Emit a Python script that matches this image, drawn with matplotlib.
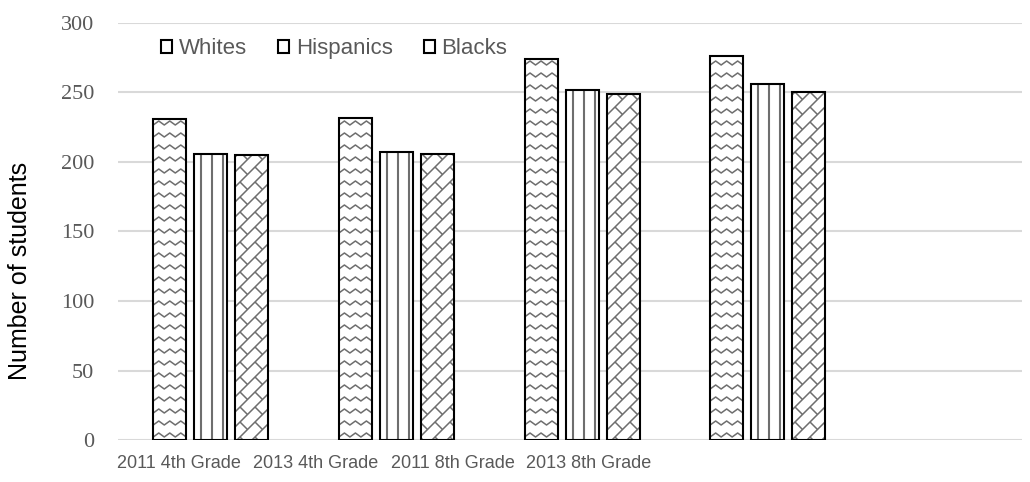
import numpy as np
import matplotlib.pyplot as plt
from matplotlib.collections import LineCollection
from matplotlib.transforms import IdentityTransform
from matplotlib.patches import Patch

categories = ['2011 4th Grade', '2013 4th Grade', '2011 8th Grade', '2013 8th Grade']
series = ['Whites', 'Hispanics', 'Blacks']
whites = [231, 232, 274, 276]
hispanics = [206, 207, 252, 256]
blacks = [205, 206, 249, 250]
yticks = [0, 50, 100, 150, 200, 250, 300]

W, H = 1030, 482
fig = plt.figure(figsize=(W / 100, H / 100), dpi=100)
ax = fig.add_axes([118 / W, 42 / H, 904 / W, 417 / H])
ax.set_xlim(-0.5, 4.37)
ax.set_ylim(0, 300)

x = np.arange(len(categories))
pitch, width = 0.221, 0.178
values = [whites, hispanics, blacks]
kinds = ['wave', 'vert', 'brick']


def pattern_segments(kind, x0, y0, x1, y1):
    # hatch-like lines in pixel space for one bar
    segs = []
    if kind == 'wave':
        period, amp, gap = 11, 4, 12
        yy = y0 + 3
        while yy < y1 + gap:
            xs = np.arange(x0 - period, x1 + period, period / 2)
            ys = yy + amp * (np.arange(len(xs)) % 2)
            segs.append(np.column_stack([xs, ys]))
            yy += gap
    elif kind == 'vert':
        xx = x0 + 7
        while xx < x1 - 2:
            segs.append([(xx, y0), (xx, y1)])
            xx += 11
    else:
        s = 15
        k0 = int(np.floor((x0 - y1) / s)) - 1
        k1 = int(np.ceil((x1 - y0) / s)) + 1
        c0 = int(np.floor((x0 + y0) / (2 * s))) - 1
        c1 = int(np.ceil((x1 + y1) / (2 * s))) + 1
        for k in range(k0, k1):
            segs.append([(x0 - 20, x0 - 20 - k * s), (x1 + 20, x1 + 20 - k * s)])
            for j in range(c0, c1):
                c = 2 * j * s + (k % 2) * s
                p1 = ((k * s + c) / 2, (c - k * s) / 2)
                p2 = (((k + 1) * s + c) / 2, (c - (k + 1) * s) / 2)
                segs.append([p1, p2])
    return segs


for i, (vals, kind) in enumerate(zip(values, kinds)):
    pos = x + (i - 1) * pitch
    bars = ax.bar(pos, vals, width, color='white', edgecolor='none', zorder=2)
    for bar in bars:
        bb = bar.get_window_extent()
        segs = pattern_segments(kind, bb.x0, bb.y0, bb.x1, bb.y1)
        lw = 1.5 if kind == 'vert' else 1.1
        lc = LineCollection(segs, colors='#6e6e6e', linewidths=lw,
                            transform=IdentityTransform(), zorder=2.5)
        ax.add_collection(lc, autolim=False)
        lc.set_clip_path(bar)
    ax.bar(pos, vals, width, fill=False, edgecolor='black', linewidth=1.5, zorder=3)

ax.set_xlim(-0.5, 4.37)
ax.set_ylim(0, 300)
ax.set_axisbelow(True)
ax.grid(axis='y', color='#d9d9d9', linewidth=1.5)
for sp in ax.spines.values():
    sp.set_visible(False)

ax.set_yticks(yticks)
ax.set_yticklabels([str(t) for t in yticks], family='Liberation Serif',
                   fontsize=16, color='#595959')
ax.set_xticks(np.arange(len(categories)) * 0.736 - 0.17)
ax.set_xticklabels(categories, family='Liberation Sans', fontsize=13, color='#595959')
ax.tick_params(axis='y', length=0, pad=17)
ax.tick_params(axis='x', length=0, pad=11)

ax.set_ylabel('Number of students', family='Liberation Sans', fontsize=18, color='black')
ax.yaxis.set_label_coords((32 - 118) / 904, 0.405)

handles = [Patch(facecolor='white', edgecolor='black', linewidth=1.5) for _ in series]
ax.legend(handles, series, loc='center left', bbox_to_anchor=((161 - 118) / 904, 0.938),
          ncol=3, frameon=False, borderpad=0, borderaxespad=0, handlelength=0.5,
          handleheight=0.5, handletextpad=0.3, columnspacing=1.4,
          prop={'family': 'Liberation Sans', 'size': 16}, labelcolor='#595959')

fig.savefig('out.png', dpi=100)
